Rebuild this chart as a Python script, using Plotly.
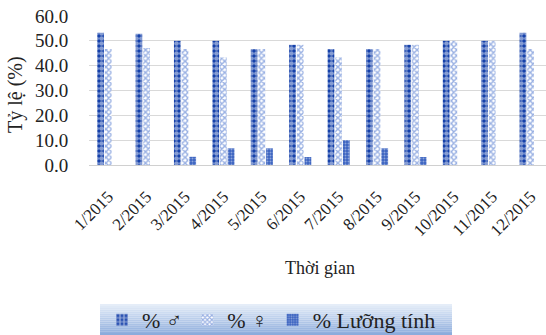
import plotly.graph_objects as go

months = ["1/2015", "2/2015", "3/2015", "4/2015", "5/2015", "6/2015",
          "7/2015", "8/2015", "9/2015", "10/2015", "11/2015", "12/2015"]
male = [53.3, 52.9, 50.0, 50.0, 46.7, 48.4, 46.7, 46.7, 48.4, 50.0, 50.0, 53.3]
female = [46.7, 47.1, 46.7, 43.3, 46.7, 48.4, 43.3, 46.7, 48.4, 50.0, 50.0, 46.7]
herma = [None, None, 3.3, 6.7, 6.7, 3.2, 10.0, 6.7, 3.2, None, None, None]

names = ["% ♂", "% ♀", "% Lưỡng tính"]
W, H = 546, 335
L, R, T, B = 89, 0, 16, 170
pw = W - L - R
ph = H - T - B

fig = go.Figure()
fig.add_trace(go.Bar(x=months, y=male, name=names[0],
    marker=dict(color="#0a38a6", line=dict(width=0),
                pattern=dict(shape=".", fgcolor="white", bgcolor="#0a38a6", size=5, solidity=0.7, fillmode="overlay"))))
fig.add_trace(go.Bar(x=months, y=female, name=names[1],
    marker=dict(color="white", line=dict(width=0),
                pattern=dict(shape="x", fgcolor="#3563c8", bgcolor="white", size=4, solidity=0.6, fillmode="overlay"))))
fig.add_trace(go.Bar(x=months, y=herma, name=names[2],
    marker=dict(color="#3a62bf", line=dict(width=0),
                pattern=dict(shape=".", fgcolor="#dfe7f7", bgcolor="#3a62bf", size=3, solidity=0.35, fillmode="overlay"))))

serif = "Liberation Serif, Times New Roman, serif"

# gradient legend background
x0p = (100 - L) / pw
x1p = (452 - L) / pw
top_px, bot_px = 304, 335
n = 16
c0 = (229, 237, 248)
c1 = (140, 172, 220)
shapes = []
for i in range(n):
    f = i / (n - 1)
    col = tuple(round(c0[k] + (c1[k] - c0[k]) * f) for k in range(3))
    ya = top_px + (bot_px - top_px) * i / n
    yb = top_px + (bot_px - top_px) * (i + 1) / n
    shapes.append(dict(type="rect", xref="paper", yref="paper", layer="below",
                       x0=x0p, x1=x1p,
                       y0=-(yb - (H - B)) / ph, y1=-(ya - (H - B)) / ph,
                       line=dict(width=0), fillcolor="rgb(%d,%d,%d)" % col))

fig.update_layout(
    width=W, height=H,
    margin=dict(l=L, r=R, t=T, b=B, pad=0, autoexpand=False),
    paper_bgcolor="white", plot_bgcolor="white",
    barmode="group", bargap=0.4, bargroupgap=0.12,
    font=dict(family=serif, color="#222222"),
    shapes=shapes,
    showlegend=True,
    legend=dict(orientation="h", x=(102 - L) / pw, xanchor="left",
                y=-(320 - (H - B)) / ph, yanchor="middle",
                bgcolor="rgba(0,0,0,0)", font=dict(family=serif, size=22, color="#222222"),
                itemwidth=30, traceorder="normal"),
    xaxis=dict(type="category", range=[-0.5, 11.4], tickangle=-45,
               tickfont=dict(family=serif, size=17, color="#222222"),
               showline=True, linecolor="#d0d0d0", linewidth=1,
               ticks="outside", ticklen=14, tickcolor="rgba(0,0,0,0)",
               showgrid=False, automargin=False),
    yaxis=dict(range=[0, 60], dtick=10, tickformat=".1f",
               tickfont=dict(family=serif, size=19, color="#222222"),
               showgrid=True, gridcolor="#d9d9d9", gridwidth=1,
               zeroline=False, showline=False,
               ticks="outside", ticklen=16, tickcolor="rgba(0,0,0,0)",
               automargin=False),
    annotations=[
        dict(text="Thời gian", xref="paper", yref="paper",
             x=(320 - L) / pw, y=-(268 - (H - B)) / ph,
             showarrow=False, font=dict(family=serif, size=18, color="#222222"),
             xanchor="center", yanchor="middle"),
        dict(text="Tỷ lệ (%)", xref="paper", yref="paper",
             x=(15 - L) / pw, y=1 - (95 - T) / ph, textangle=-90,
             showarrow=False, font=dict(family=serif, size=20, color="#222222"),
             xanchor="center", yanchor="middle"),
    ],
)

fig.write_html("out.html", config={"displayModeBar": False},
               post_script="document.body.style.margin='0';document.body.style.padding='0';")
